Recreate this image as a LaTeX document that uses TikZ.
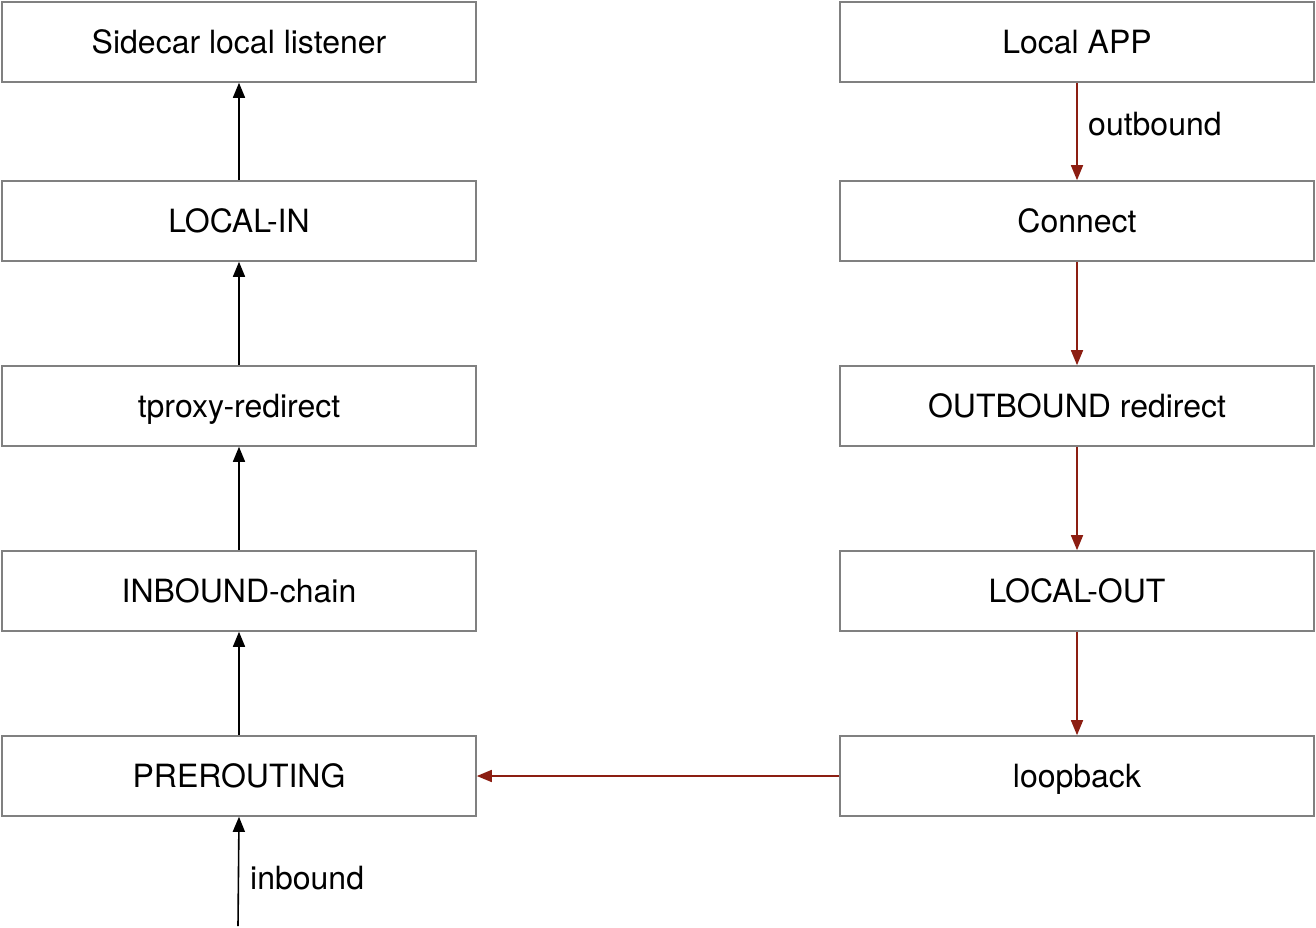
\documentclass[tikz,border=0pt]{standalone}
\usepackage{fontspec}
\setmainfont{TeX Gyre Heros}
\usetikzlibrary{arrows.meta,positioning}

\definecolor{boxgray}{RGB}{128,128,128}
\definecolor{outred}{RGB}{140,30,18}

\tikzset{
  chainbox/.style={draw=boxgray, line width=1.6pt, minimum width=474pt, minimum height=80pt, inner sep=0pt, text height=26pt, text depth=3pt, font=\fontsize{32}{36}\selectfont},
  inflow/.style={draw=black, line width=1.6pt, -{Triangle[length=15pt,width=12pt]}},
  outflow/.style={draw=outred, line width=1.6pt, -{Triangle[length=15pt,width=12pt]}},
  flowlabel/.style={font=\fontsize{32}{36}\selectfont, inner sep=0pt, anchor=west}
}

\begin{document}
\begin{tikzpicture}[x=1pt,y=-1pt]
        \useasboundingbox (0,0) rectangle (1316,928);

        % inbound side
        \node[chainbox] (listener) at (239,42) {Sidecar local listener};
        \node[chainbox] (localin) at (239,221) {LOCAL-IN};
        \node[chainbox] (tproxy) at (239,406) {tproxy-redirect};
        \node[chainbox] (inchain) at (239,591) {INBOUND-chain};
        \node[chainbox] (prerouting) at (239,776) {PREROUTING};

        % outbound side
        \node[chainbox] (localapp) at (1077,42) {Local APP};
        \node[chainbox] (connect) at (1077,221) {Connect};
        \node[chainbox] (outredirect) at (1077,406) {OUTBOUND redirect};
        \node[chainbox] (localout) at (1077,591) {LOCAL-OUT};
        \node[chainbox] (loopback) at (1077,776) {loopback};

        \coordinate (entry) at (238,926);

        \draw[inflow] (entry) -- (prerouting.south);
        \draw[inflow] (prerouting) -- (inchain);
        \draw[inflow] (inchain) -- (tproxy);
        \draw[inflow] (tproxy) -- (localin);
        \draw[inflow] (localin) -- (listener);

        \draw[outflow] (localapp) -- (connect);
        \draw[outflow] (connect) -- (outredirect);
        \draw[outflow] (outredirect) -- (localout);
        \draw[outflow] (localout) -- (loopback);
        \draw[outflow] (loopback) -- (prerouting);

        \node[flowlabel] (outlabel) at (1088,124) {outbound};
        \node[flowlabel] (inlabel) at (250,878) {inbound};
      \end{tikzpicture}
\end{document}
